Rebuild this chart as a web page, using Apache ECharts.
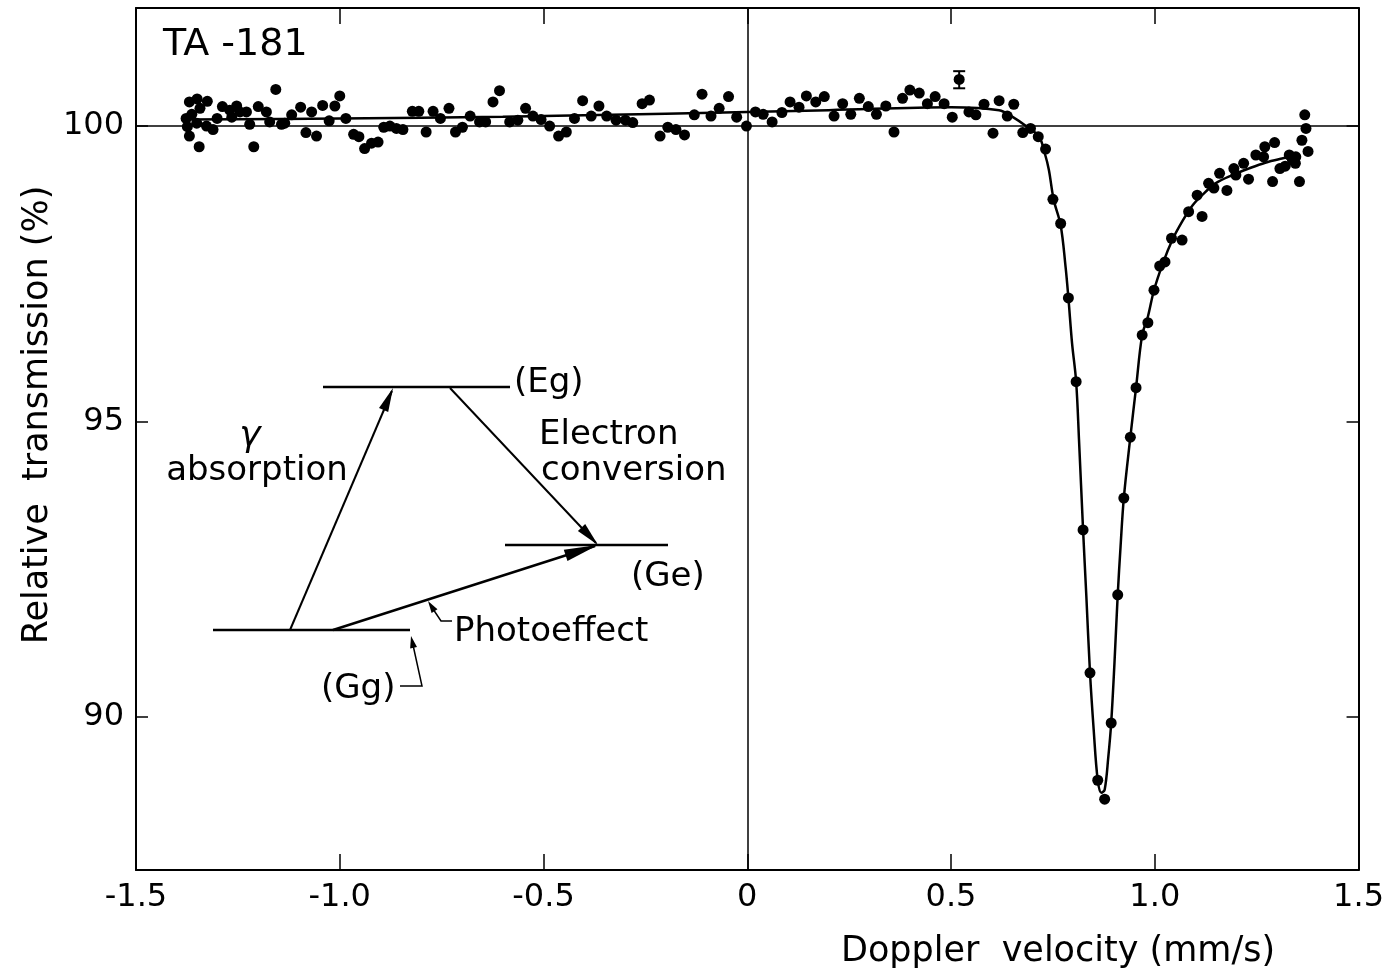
<!DOCTYPE html>
<html>
<head>
<meta charset="utf-8">
<script src="https://cdn.jsdelivr.net/npm/echarts@6/dist/echarts.min.js"></script>
<style>
html,body{margin:0;padding:0;background:#fff;}
#chart{width:1387px;height:979px;}
</style>
</head>
<body>
<div id="chart"></div>
<script>
// ---- Data ----
var xTicks = [-1.5, -1.0, -0.5, 0, 0.5, 1.0, 1.5];
var yTickLabels = [90, 95, 100];

// Measured points: Doppler velocity (mm/s)
var pointVelocity = [
 -1.369,-1.350,-1.325,-1.343,-1.363,-1.377,-1.374,-1.369,-1.345,-1.351,-1.327,-1.311,-1.301,-1.288,-1.270,-1.253,-1.245,-1.229,-1.221,-1.265,
 -1.211,-1.200,-1.180,-1.172,-1.157,-1.143,-1.135,-1.118,-1.096,-1.083,-1.069,-1.057,-1.042,-1.026,-1.012,-1.000,-0.985,-0.966,-0.953,-0.939,
 -0.922,-0.906,-0.892,-0.877,-0.861,-0.845,-0.822,-0.806,-0.788,-0.771,-0.753,-0.732,-0.716,-0.699,-0.680,-0.657,-0.642,-0.624,-0.608,
 -0.583,-0.563,-0.544,-0.526,-0.506,-0.485,-0.463,-0.444,-0.424,-0.404,-0.383,-0.364,-0.345,-0.322,-0.299,-0.281,-0.258,-0.240,-0.214,-0.195,
 -0.175,-0.154,-0.130,-0.111,-0.089,-0.069,-0.046,-0.026,-0.002,0.020,0.039,0.061,0.085,0.105,0.127,0.145,0.168,0.189,0.213,0.234,
 0.254,0.275,0.297,0.317,0.340,0.360,0.381,0.399,0.422,0.442,0.461,0.483,
 0.503,0.520,0.544,0.561,0.581,0.603,0.618,0.638,0.654,0.676,0.695,0.714,0.732,0.750,0.769,0.788,0.807,0.824,0.841,0.860,
 0.877,0.893,0.909,0.924,0.940,0.954,0.969,0.983,0.998,1.012,1.025,1.041,1.067,1.083,1.104,1.116,1.132,1.145,1.159,1.177,
 1.194,1.199,1.218,1.230,1.248,1.270,1.294,1.289,1.320,1.330,1.345,1.355,1.361,1.371,1.368,1.376,1.346,1.307,1.267,1.338
];
// Measured points: relative transmission (%)
var pointTransmission = [
 100.41,100.46,100.42,100.30,100.20,100.13,99.99,99.83,99.65,100.05,100.00,99.94,100.13,100.33,100.27,100.34,100.24,100.24,100.03,100.15,
 99.65,100.33,100.24,100.07,100.62,100.03,100.05,100.19,100.32,99.89,100.24,99.83,100.35,100.09,100.34,100.51,100.13,99.86,99.82,99.62,
 99.71,99.73,99.98,100.00,99.96,99.94,100.25,100.25,99.90,100.25,100.13,100.30,99.90,99.98,100.17,100.07,100.07,100.41,100.60,
 100.07,100.10,100.30,100.17,100.11,100.00,99.83,99.90,100.13,100.43,100.17,100.34,100.17,100.10,100.10,100.06,100.38,100.44,99.83,99.98,
 99.94,99.85,100.19,100.54,100.17,100.30,100.50,100.15,100.00,100.24,100.20,100.07,100.23,100.41,100.32,100.51,100.41,100.50,100.17,100.38,
 100.20,100.47,100.33,100.20,100.34,99.90,100.47,100.61,100.56,100.38,100.50,100.38,
 100.15,100.79,100.24,100.19,100.37,99.88,100.43,100.17,100.37,99.89,99.96,99.82,99.61,98.76,98.35,97.09,95.67,93.16,90.74,88.92,
 88.60,89.89,92.06,93.70,94.73,95.57,96.46,96.67,97.22,97.63,97.70,98.10,98.07,98.55,98.83,98.47,99.03,98.95,99.20,98.91,
 99.28,99.17,99.37,99.10,99.51,99.65,99.72,99.06,99.32,99.51,99.37,99.06,99.76,99.96,100.19,99.57,99.48,99.28,99.48,99.42
];

// Error bar on one point: [velocity, low, high]
var errorBar = [[0.520, 100.64, 100.93]];

// Fitted curve
var fitVelocity = [
 -1.370,-1.000,-0.600,-0.200,0.200,0.500,0.618,0.650,0.684,0.716,0.730,0.740,0.752,0.769,0.781,0.788,0.797,0.807,0.814,0.824,
 0.832,0.841,0.850,0.860,0.869,0.877,0.886,0.893,0.901,0.909,0.916,0.924,0.940,0.954,0.969,0.983,0.998,1.020,1.043,1.067,
 1.092,1.116,1.149,1.190,1.230,1.271,1.312,1.353
];
var fitTransmission = [
 100.11,100.13,100.16,100.21,100.27,100.32,100.27,100.16,100.00,99.82,99.54,99.26,98.75,98.32,97.62,97.09,96.32,95.67,94.69,93.16,
 92.04,90.74,89.78,88.92,88.71,88.76,89.32,89.89,90.90,92.06,92.88,93.70,94.73,95.57,96.46,96.77,97.22,97.68,98.07,98.38,
 98.65,98.83,99.03,99.17,99.28,99.38,99.45,99.51
];

// ---- Build chart ----
var FONT = 'DejaVu Sans';
var pts = pointVelocity.map(function(v, i){ return [v, pointTransmission[i]]; });
var fit = fitVelocity.map(function(v, i){ return [v, fitTransmission[i]]; });

var chart = echarts.init(document.getElementById('chart'), null, {renderer: 'canvas'});

function arrowHead(x1, y1, x2, y2, len, wid) {
  var dx = x2 - x1, dy = y2 - y1, d = Math.sqrt(dx*dx + dy*dy);
  var ux = dx / d, uy = dy / d;
  var bx = x2 - ux*len, by = y2 - uy*len;
  return {
    type: 'polygon',
    shape: {points: [[x2, y2], [bx - uy*wid, by + ux*wid], [bx + uy*wid, by - ux*wid]]},
    style: {fill: '#000'}
  };
}
function seg(pointsArr, w) {
  return {type: 'polyline', shape: {points: pointsArr}, style: {stroke: '#000', lineWidth: w || 2, fill: null}};
}
function txt(s, x, y, size, align, extra) {
  var st = {text: s, x: x, y: y, fill: '#000', font: (extra || '') + ' ' + size + 'px "' + FONT + '"',
            textAlign: align || 'left', textVerticalAlign: 'middle'};
  return {type: 'text', style: st};
}

var graphics = [
  // Energy levels
  seg([[323, 387], [510, 387]], 2.5),
  seg([[505, 545], [668, 545]], 2.5),
  seg([[213, 630], [410, 630]], 2.5),
  // gamma absorption arrow
  seg([[290, 630], [392, 391]], 2),
  arrowHead(290, 630, 393, 388, 24, 5),
  // electron conversion arrow
  seg([[450, 388], [596, 543]], 2),
  arrowHead(450, 388, 598, 545, 24, 5),
  // photoeffect arrow
  seg([[333, 630], [595, 546]], 2.5),
  arrowHead(333, 630, 598, 545, 34, 6),
  // photoeffect leader
  seg([[452, 621], [441, 621], [431, 606]], 1.5),
  arrowHead(441, 621, 428, 601, 12, 3.5),
  // Gg leader
  seg([[400, 686], [422, 686], [413, 645]], 1.5),
  arrowHead(422, 686, 411, 636, 12, 3.5),
  // Texts
  txt('(Eg)', 514, 383, 34),
  txt('\u03B3', 250, 437, 36, 'center', 'italic'),
  txt('absorption', 257, 471, 34, 'center'),
  txt('Electron', 539, 435, 34),
  txt('conversion', 541, 471, 34),
  txt('(Ge)', 631, 577, 34),
  txt('Photoeffect', 454, 632, 34),
  txt('(Gg)', 321, 689, 34),
  txt('TA -181', 163, 45, 38),
  // Axis names
  txt('Doppler  velocity (mm/s)', 1058, 952, 35, 'center'),
  {type: 'text', x: 38, y: 415, rotation: Math.PI/2,
   style: {text: 'Relative  transmission (%)', x: 0, y: 0, fill: '#000', font: '35px "' + FONT + '"',
           textAlign: 'center', textVerticalAlign: 'middle'}}
];

var axisLineStyle = {color: '#000', width: 2};
var option = {
  backgroundColor: '#fff',
  animation: false,
  grid: {left: 136, right: 27, top: 8, bottom: 109, containLabel: false},
  xAxis: [{
    type: 'value', min: -1.5, max: 1.5, interval: 0.5, position: 'bottom',
    axisLine: {show: true, onZero: false, lineStyle: axisLineStyle},
    axisTick: {show: true, inside: true, length: 16, lineStyle: {color: '#000', width: 1.5}},
    axisLabel: {show: true, margin: 12, color: '#000', fontFamily: FONT, fontSize: 32,
      formatter: function(v){ return v === 0 ? '0' : v.toFixed(1); }},
    splitLine: {show: false}
  }, {
    type: 'value', min: -1.5, max: 1.5, interval: 0.5, position: 'top',
    axisLine: {show: true, onZero: false, lineStyle: axisLineStyle},
    axisTick: {show: true, inside: true, length: 16, lineStyle: {color: '#000', width: 1.5}},
    axisLabel: {show: false}, splitLine: {show: false}
  }],
  yAxis: [{
    type: 'value', min: 87.4, max: 102, position: 'left',
    axisLine: {show: true, onZero: false, lineStyle: axisLineStyle},
    axisTick: {show: true, inside: true, length: 12, customValues: yTickLabels, lineStyle: {color: '#000', width: 1.5}},
    axisLabel: {show: true, margin: 12, color: '#000', fontFamily: FONT, fontSize: 32, customValues: yTickLabels},
    splitLine: {show: false}
  }, {
    type: 'value', min: 87.4, max: 102, position: 'right',
    axisLine: {show: true, onZero: false, lineStyle: axisLineStyle},
    axisTick: {show: true, inside: true, length: 12, customValues: yTickLabels, lineStyle: {color: '#000', width: 1.5}},
    axisLabel: {show: false}, splitLine: {show: false}
  }],
  series: [{
    type: 'line', data: fit, xAxisIndex: 0, yAxisIndex: 0,
    showSymbol: false, smooth: 0.35, lineStyle: {color: '#000', width: 2.5}, z: 3,
    markLine: {
      silent: true, symbol: ['none', 'none'], label: {show: false},
      lineStyle: {color: '#000', width: 1.5, type: 'solid'},
      data: [{xAxis: 0}, {yAxis: 100}]
    }
  }, {
    type: 'scatter', data: pts, xAxisIndex: 0, yAxisIndex: 0,
    symbol: 'circle', symbolSize: 11, itemStyle: {color: '#000', opacity: 1}, z: 4
  }, {
    type: 'custom', data: errorBar, xAxisIndex: 0, yAxisIndex: 0, z: 4,
    renderItem: function(params, api) {
      var x = api.value(0);
      var lo = api.coord([x, api.value(1)]);
      var hi = api.coord([x, api.value(2)]);
      var c = 6;
      return {type: 'group', children: [
        {type: 'line', shape: {x1: lo[0], y1: lo[1], x2: hi[0], y2: hi[1]}, style: {stroke: '#000', lineWidth: 2}},
        {type: 'line', shape: {x1: lo[0]-c, y1: lo[1], x2: lo[0]+c, y2: lo[1]}, style: {stroke: '#000', lineWidth: 2}},
        {type: 'line', shape: {x1: hi[0]-c, y1: hi[1], x2: hi[0]+c, y2: hi[1]}, style: {stroke: '#000', lineWidth: 2}}
      ]};
    }
  }],
  graphic: graphics
};
chart.setOption(option);
</script>
</body>
</html>
